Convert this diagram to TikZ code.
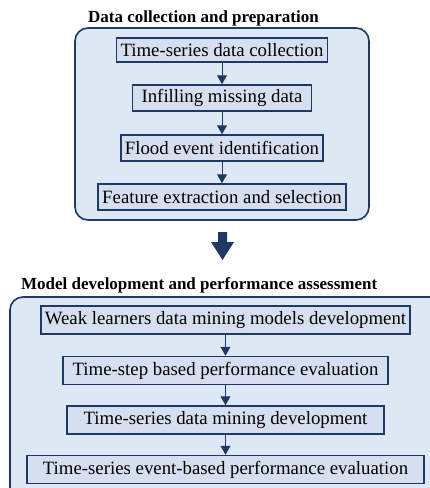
\documentclass[tikz,border=0pt]{standalone}
\usepackage{fontspec}
\setmainfont{Liberation Serif}
\usepackage{xcolor}
\usetikzlibrary{arrows.meta}

\definecolor{navy}{HTML}{1F3864}
\definecolor{panelfill}{HTML}{DEE8F5}
\definecolor{boxfill}{HTML}{D5DFF0}

\tikzset{
  panel/.style={draw=navy,line width=1.6pt,fill=panelfill,rounded corners=13pt},
  stepbox/.style={draw=navy,line width=1.5pt,fill=boxfill,inner xsep=4pt,
    minimum height=26pt,font=\fontsize{18.8}{21}\selectfont},
  heading/.style={anchor=base west,inner sep=0pt,font=\fontsize{17}{20}\selectfont\bfseries},
  flow/.style={navy,line width=1pt,-{Triangle[width=10pt,length=9pt]}}
}

\begin{document}
\begin{tikzpicture}[x=1pt,y=-1pt]

\clip (0,0) rectangle (430,488);
\fill[white] (0,0) rectangle (430,488);

% first stage
\node[heading] (t1) at (88,22) {Data collection and preparation};
\draw[panel] (75,28) rectangle (369,220);
\node[stepbox,minimum height=24pt] (b1) at (222,50) {Time-series data collection};
\node[stepbox,minimum width=179pt] (b2) at (222,98) {Infilling missing data};
\node[stepbox] (b3) at (222,148) {Flood event identification};
\node[stepbox] (b4) at (222,197) {Feature extraction and selection};
\draw[flow] (b1) -- (b2);
\draw[flow] (b2) -- (b3);
\draw[flow] (b3) -- (b4);

% block arrow between the stages
\fill[navy] (218,232) -- (227,232) -- (227,242) -- (234,242) -- (222.5,260)
  -- (211,242) -- (218,242) -- cycle;

% second stage
\node[heading] (t2) at (21,289) {Model development and performance assessment};
\draw[panel] (10,297) rectangle (450,510);
\node[stepbox,minimum height=28pt] (b5) at (225.5,320) {Weak learners data mining models development};
\node[stepbox,minimum height=28pt,minimum width=325pt] (b6) at (225.5,370.5) {Time-step based performance evaluation};
\node[stepbox,minimum height=28pt,minimum width=317pt] (b7) at (225.5,420) {Time-series data mining development};
\node[stepbox,minimum height=28pt,minimum width=397pt] (b8) at (225.5,469.5) {Time-series event-based performance evaluation};
\draw[flow] (b5) -- (b6);
\draw[flow] (b6) -- (b7);
\draw[flow] (b7) -- (b8);

\end{tikzpicture}
\end{document}
